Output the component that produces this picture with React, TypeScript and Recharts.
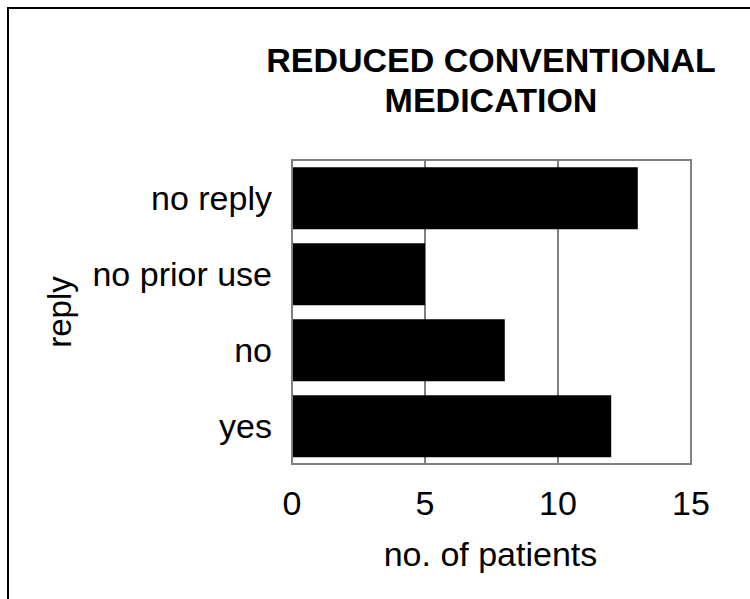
import React from 'react';
import { BarChart, Bar, XAxis, YAxis, CartesianGrid, ReferenceArea } from 'recharts';

const categories = ['no reply', 'no prior use', 'no', 'yes'];
const patients = [13, 5, 8, 12];
const xTicks = [0, 5, 10, 15];
const titleLines = ['REDUCED CONVENTIONAL', 'MEDICATION'];
const xLabel = 'no. of patients';
const yLabel = 'reply';

const data = categories.map((c, i) => ({ reply: c, patients: patients[i] }));

const FONT = '"Liberation Sans", Arial, Helvetica, sans-serif';
const GRAY = '#808080';

const XAxisLabel = (props: any) => {
  const vb = props.viewBox ?? { x: 292, y: 464, width: 399, height: 135 };
  return (
    <text
      x={vb.x + vb.width / 2 - 1}
      y={vb.y + 102}
      textAnchor="middle"
      fontSize={34}
      fill="#000"
      fontFamily={FONT}
    >
      {xLabel}
    </text>
  );
};

const YAxisLabel = (props: any) => {
  const vb = props.viewBox ?? { x: 0, y: 160, width: 292, height: 304 };
  const cx = vb.x + 59;
  const cy = vb.y + vb.height / 2;
  return (
    <text
      x={cx}
      y={cy}
      transform={`rotate(-90, ${cx}, ${cy})`}
      textAnchor="middle"
      dominantBaseline="central"
      fontSize={33}
      fill="#000"
      fontFamily={FONT}
    >
      {yLabel}
    </text>
  );
};

export default function App() {
  return (
    <div style={{ position: 'absolute', left: 0, top: 0, width: 750, height: 599, background: '#fff' }}>
      <div
        style={{
          position: 'absolute',
          left: 7,
          top: 7,
          width: 741,
          height: 590,
          borderTop: '2px solid #000',
          borderLeft: '2px solid #000',
        }}
      />
      <div
        style={{
          position: 'absolute',
          left: 241,
          top: 40,
          width: 500,
          textAlign: 'center',
          fontFamily: FONT,
          fontWeight: 'bold',
          fontSize: 34,
          lineHeight: '40px',
          color: '#000',
        }}
      >
        {titleLines.map((t) => (
          <div key={t}>{t}</div>
        ))}
      </div>
      <div style={{ position: 'absolute', left: 0, top: 0 }}>
        <BarChart
          width={750}
          height={599}
          data={data}
          layout="vertical"
          margin={{ top: 160, right: 59, bottom: 0, left: 0 }}
          barCategoryGap="9.5%"
        >
          <CartesianGrid horizontal={false} vertical stroke={GRAY} strokeWidth={2} />
          <XAxis
            type="number"
            dataKey="patients"
            domain={[0, 15]}
            ticks={xTicks}
            height={135}
            tickLine={false}
            tickSize={0}
            tickMargin={27}
            axisLine={{ stroke: GRAY, strokeWidth: 2 }}
            tick={{ fontSize: 34, fill: '#000', fontFamily: FONT }}
            label={<XAxisLabel />}
          />
          <YAxis
            type="category"
            dataKey="reply"
            width={292}
            tickLine={false}
            tickSize={0}
            tickMargin={20}
            axisLine={{ stroke: GRAY, strokeWidth: 2 }}
            tick={{ fontSize: 34, fill: '#000', fontFamily: FONT }}
            label={<YAxisLabel />}
          />
          <Bar dataKey="patients" fill="#000" isAnimationActive={false} />
          <ReferenceArea x1={0} x2={15} fill="none" fillOpacity={0} stroke={GRAY} strokeWidth={2} />
        </BarChart>
      </div>
    </div>
  );
}
